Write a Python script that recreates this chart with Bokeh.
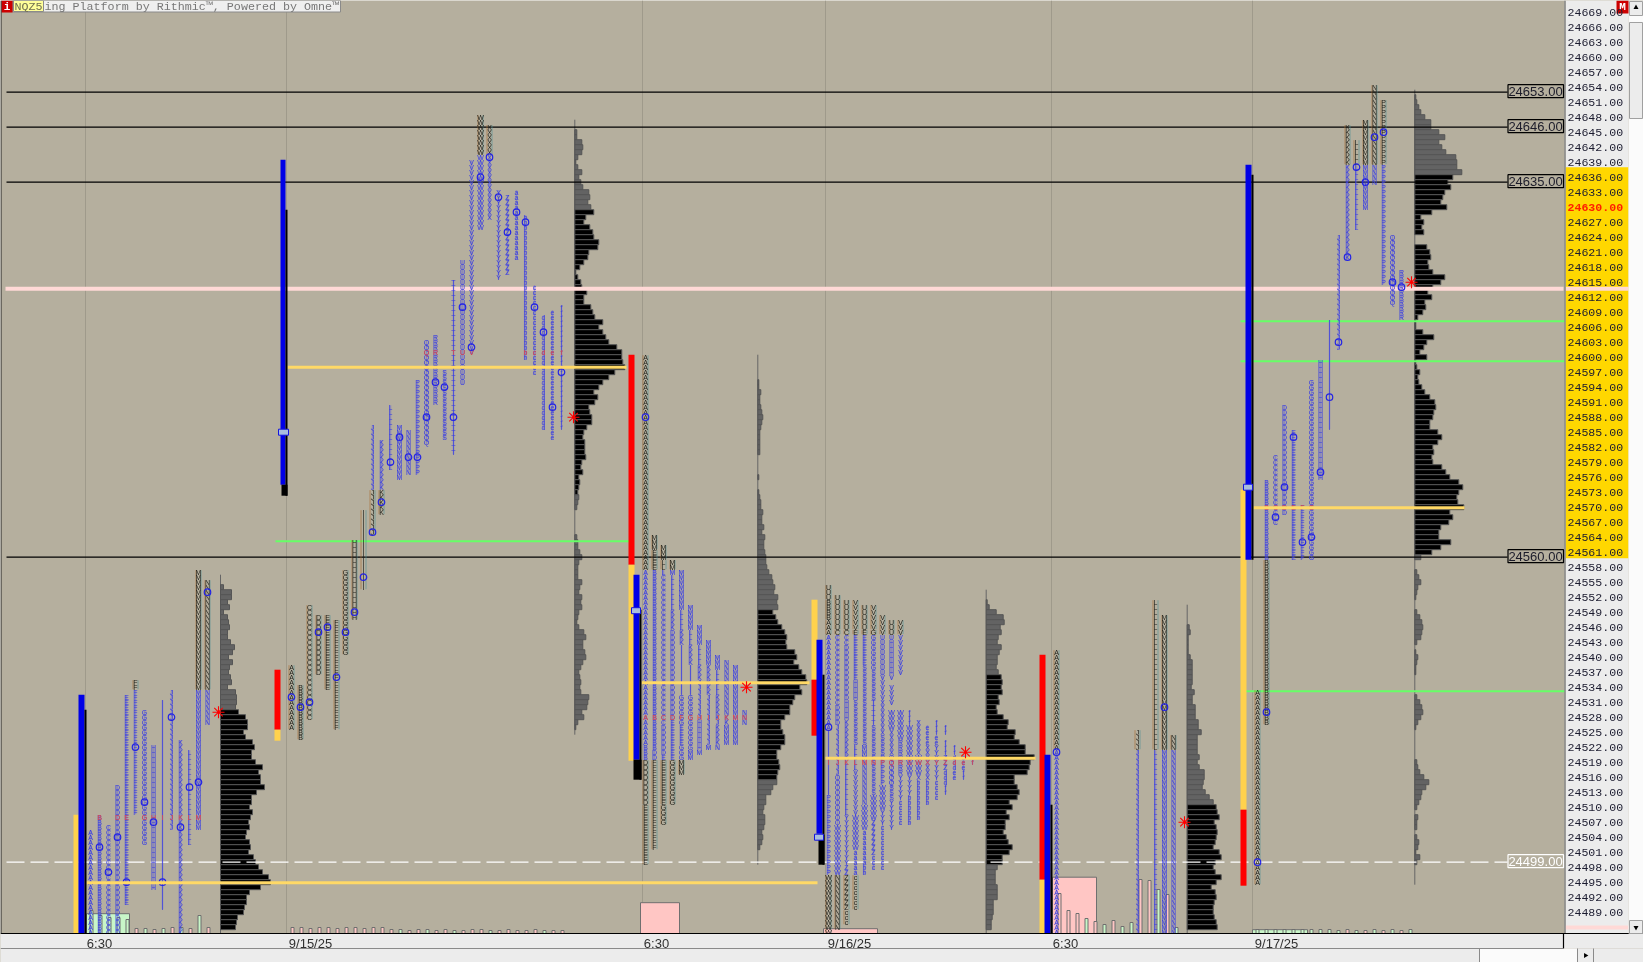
from bokeh.plotting import figure
from bokeh.models import Range1d, LinearAxis, FixedTicker, ColumnDataSource
from bokeh.core.properties import value
from bokeh.embed import file_html
from bokeh.resources import INLINE

# ---------------- price scale labels
price_ticks = list(range(24489, 24670, 3))
time_labels = ["6:30", "9/15/25", "6:30", "9/16/25", "6:30", "9/17/25"]
key_levels = [24653, 24646, 24635, 24560]
prior_close_level = 24499
pink_level = 24613.7
green_levels = [24563.2, 24607.2, 24599.2, 24533.2]
poc_levels = [24494.9, 24598, 24534.9, 24519.8, 24569.9]
value_band = [24638, 24559.8]
last_price = 24630

# ---------------- profile histograms (top price, widths per price row going down)
h1_top = 24554
h1 = [3,11,11,7,9,3,7,8,9,7,7,10,14,12,8,12,9,8,10,11,7,15,16,16,15,
      18,25,27,27,23,25,32,34,31,31,35,42,38,40,40,44,36,31,31,29,32,30,28,29,26,25,29,30,28,33,35,38,42,48,50,40,29,26,26,24,23,17,16,15,14]
h1_black = [24529, 24485]
h2_top = 24645
h2 = [2,2,7,8,7,3,1,3,7,4,6,8,14,15,13,16,
      19,11,9,15,18,19,24,23,14,13,9,5,1,3,6,7,12,9,9,16,18,20,28,24,28,31,34,42,47,47,48,50,40,34,28,24,19,23,20,14,15,17,17,12,
      9,8,10,10,10,11,7,6,8,4,5,4,3,
      4,3,2,0,0,0,0,0,2,3,3,5,7,4,3,3,3,7,5,4,7,6,7,4,3,2,4,9,11,8,8,10,11,8,6,4,5,6,5,6,14,13,12,7,9,3,1]
h2_black = [24629, 24573]
h3_top = 24595
h3 = [1,1,3,2,2,3,4,5,4,3,2,2,2,2,2,0,0,0,0,1,0,0,1,2,3,3,5,4,4,6,4,7,6,6,7,8,8,9,11,14,15,17,16,20,19,20,
      15,18,20,24,27,29,28,29,37,39,36,41,44,48,49,42,44,37,35,32,32,27,23,23,25,27,27,23,19,19,21,22,20,19,
      19,15,13,8,8,6,5,7,7,6,4,5,4,2]
h3_black = [24549, 24516]
h4_top = 24551
h4 = [1,3,10,17,18,14,15,12,11,15,13,11,11,10,12,
      15,16,15,16,12,13,10,11,17,22,21,29,28,33,39,39,48,44,43,41,28,28,31,33,31,23,26,20,23,19,19,17,20,22,26,23,16,16,
      11,9,9,9,11,11,11,7,7,7,6,5,5,3]
h4_black = [24536, 24499]
h5_top = 24546
h5 = [2,3,1,1,1,1,3,5,5,5,5,5,4,7,5,5,8,8,8,11,11,14,10,10,10,10,12,10,12,17,17,16,15,18,22,26,
      29,30,32,27,29,30,29,28,26,32,34,28,26,28,34,29,24,28,29,27,26,26,27,29,30,32]
h5_black = [24510, 24485]
h6_top = 24652
h6 = [1,2,4,6,10,16,16,24,30,24,27,31,41,42,42,47,
      38,33,36,30,28,26,32,17,6,9,7,9,0,0,12,15,16,13,14,18,30,26,18,13,17,
      10,11,8,3,1,1,8,19,12,9,5,12,1,2,5,3,4,7,10,15,20,21,19,18,15,15,23,27,23,18,19,17,18,27,31,35,44,48,44,42,43,49,35,38,34,26,24,24,36,26,17,
      6,0,0,2,4,6,3,2,1,0,0,2,5,7,8,7,6,2,0,1,3,2,1,1,0,0,0,0,2,5,7,8,6,3,1,0,0,0,0,0,0,2,3,5,9,
      14,11,7,6,4,2,0,3,2,2,0,2,4,3,1,5,2]
h6_black = [24636, 24561]
hist_extent = [(24556.5, 24484.8), (24647.5, 24524.5), (24600.5, 24498.5), (24553.5, 24484.8), (24550.5, 24484.8), (24653.5, 24494.5)]

# ---------------- TPO columns: letter, high, low, marker
s1_letters = "ABCDEFGHIJKLMN"
s1_high = [24505,24508,24506,24514,24532,24535,24529,24522,24531,24533,24523,24521,24557,24555]
s1_low = [24485,24485,24485,24485,24491,24509,24503,24494,24490,24506,24485,24503,24506,24527]
s1_mark = [None,24502,24497,24504,24495,24522,24511,24507,24495,24528,24506,24514,24515,24553]
s1_split = (24533, 24000)
s1_red = 24508

s2_letters = "ABCDEFGHIJKLMNPQRSTUVWXYZabcdef"
s2_high = [24538,24534,24550,24548,24548,24547,24557,24563,24569,24586,24583,24590,24586,24585,24595,24603,24604,24597,24615,24619,24639,24648,24646,24633,24632,24633,24628,24614,24608,24609,24610]
s2_low = [24526,24524,24528,24537,24534,24526,24541,24548,24554,24565,24569,24578,24576,24577,24577,24583,24591,24584,24581,24595,24601,24626,24628,24616,24617,24620,24600,24597,24586,24584,24586]
s2_mark = [24532,24530,24531,24545,24546,24536,24545,24549,24556,24565,24571,24579,24584,24580,24580,24588,24595,24594,24588,24610,24602,24636,24640,24632,24625,24629,24627,24610,24605,24590,24597]
s2_split = (24640, 24574)
s2_red = 24601

s3_segments = [
    [("A",24600,24523),("B",24522,24520),("D",24519,24511),("E",24510,24499)],
    [("M",24564,24562),("E",24561,24558),("B",24557,24522),("D",24521,24520),("F",24519,24502)],
    [("M",24562,24560),("L",24559,24557),("C",24556,24527),("D",24526,24521),("E",24520,24511),("G",24510,24507)],
    [("M",24559,24557),("L",24556,24550),("K",24549,24546),("D",24545,24528),("E",24527,24520),("G",24519,24511)],
    [("M",24557,24550),("L",24549,24546),("K",24545,24543),("I",24542,24533),("G",24532,24527),("E",24526,24523),("G",24522,24520),("M",24519,24517)],
    [("M",24550,24546),("L",24545,24543),("K",24542,24539),("I",24538,24533),("G",24532,24522),("M",24521,24520)],
    [("M",24546,24543),("L",24542,24539),("K",24538,24536),("J",24535,24528),("H",24527,24522),("M",24521,24521)],
    [("M",24543,24539),("K",24538,24533),("J",24532,24523),("M",24522,24522)],
    [("M",24540,24538),("L",24537,24533),("K",24532,24528),("J",24527,24527),("K",24526,24523),("N",24522,24522)],
    [("N",24539,24529),("K",24528,24527),("M",24526,24523)],
    [("M",24538,24523)],
    [("N",24529,24527)],
]
s3_mark = [24588] + [None] * 11
s3_split = (24557, 24520)
s3_red = 24528
s3_red_letters = "ABCDFGHIJKMN"

s4_segments = [
    [("U",24554,24552),("B",24551,24548),("A",24547,24526),("I",24525,24513),("P",24512,24497),("W",24496,24485)],
    [("U",24552,24546),("C",24545,24531),("D",24530,24527),("J",24526,24517),("O",24516,24507),("W",24506,24497),("N",24496,24486)],
    [("U",24551,24546),("C",24545,24543),("D",24542,24532),("H",24531,24528),("K",24527,24520),("L",24519,24509),("Y",24508,24499),("Z",24498,24490),("c",24489,24487)],
    [("V",24551,24546),("E",24545,24536),("H",24535,24532),("S",24531,24523),("L",24522,24518),("V",24517,24509),("W",24508,24502),("a",24501,24497),("c",24496,24490)],
    [("U",24550,24546),("E",24545,24539),("S",24538,24523),("M",24522,24520),("N",24519,24511),("W",24510,24506),("a",24505,24499),("b",24498,24497)],
    [("V",24550,24546),("G",24545,24538),("S",24537,24532),("T",24531,24527),("S",24526,24513),("W",24512,24508),("Z",24507,24501),("c",24500,24498)],
    [("V",24548,24545),("U",24544,24537),("V",24536,24532),("X",24531,24525),("S",24524,24521),("P",24520,24515),("W",24514,24510),("Y",24509,24507),("c",24506,24498)],
    [("U",24547,24544),("H",24543,24537),("V",24536,24536),("V",24534,24531),("W",24529,24526),("X",24525,24521),("Q",24520,24515),("S",24514,24512),("Y",24511,24506)],
    [("V",24547,24545),("V",24544,24542),("V",24541,24537),("W",24529,24524),("R",24523,24517),("Y",24516,24512),("c",24511,24507)],
    [("f",24529,24527),("W",24526,24517),("Y",24516,24513),("b",24512,24507)],
    [("X",24527,24521),("W",24520,24517),("X",24516,24516),("b",24515,24508)],
    [("e",24526,24523),("X",24522,24516),("b",24515,24511)],
    [("f",24527,24525),("e",24524,24523),("Y",24522,24516),("c",24515,24512)],
    [("f",24526,24525),("f",24523,24521),("Z",24520,24518),("d",24517,24515),("f",24514,24513)],
    [("f",24522,24521),("d",24520,24518),("e",24517,24516)],
    [("e",24520,24518),("f",24517,24516)],
    [("f",24519,24519)],
]
s4_mark = [24526] + [None] * 16
s4_split = (24544, 24497)
s4_red = 24519
s4_red_letters = "IJKLMNPQRSWXYZdef"

s5_letters = "ABCDEFGHIJKLMN"
s5_high = [24541,None,None,None,None,None,None,None,None,24525,None,24551,24548,24524]
s5_low = [24485,None,None,None,None,None,None,None,None,24485,None,24485,24485,24485]
s5_mark = [24521,None,None,None,None,None,None,None,None,None,None,None,24530,None]
s5_split = (24521, 24000)

s6_letters = "ABCDEFGHIJKLMNPQR"
s6_high = [24533,24575,24580,24590,24585,24570,24595,24599,24607,24624,24646,24643,24647,24654,24651,24624,24617]
s6_low = [24495,24527,24567,24569,24560,24560,24560,24576,24586,24602,24620,24626,24630,24635,24615,24611,24608]
s6_mark = [24499,24529,24568,24574,24584,24563,24564,24577,24592,24603,24620,24638,24635,24644,24645,24615,24614]
s6_split = (24638, 24560)
s6_red = 24570

# ---------------- colored range bars (top, bottom price)
b1 = [("#ffd24d",24508.5,24484.8),("#0000e6",24532.5,24484.8),("#000000",24529.5,24484.8)]
b2 = [("#ff0000",24537.5,24525.5),("#ffd24d",24525.5,24523.3),("#0000e6",24639.5,24574.5),("#000000",24629.5,24572.3)]
b3 = [("#ff0000",24600.5,24558.5),("#ffd24d",24558.5,24519.3),("#0000e6",24556.5,24519.5),("#000000",24549.5,24515.5)]
b4 = [("#ffd24d",24551.5,24535.5),("#ff0000",24535.5,24524.3),("#0000e6",24543.5,24504.7),("#000000",24536.5,24498.5)]
b5 = [("#ff0000",24540.5,24495.5),("#ffd24d",24495.5,24484.8),("#0000e6",24520.5,24484.8),("#000000",24510.5,24484.8)]
b6 = [("#ffd24d",24573.5,24509.5),("#ff0000",24509.5,24494.3),("#0000e6",24638.5,24559.5),("#000000",24636.5,24559.5)]
bar_marks = [24585, 24549.3, 24504, 24574]
star_prices = [24529, 24588, 24534, 24521, 24507, 24615]

# ---------------- bottom volume
v1 = [23,18,16,16,14,5,5,4,5,6,6,5,18,6]
v1_c = "gggggpgpgpgpgp"
v2 = [6,6,5,6,6,5,6,6,5,6,6,4,4,3,4,4,3,4,3,3,4,4,3,3,4,3,3,4,3,3,3]
v2_c = "ppppppppppppgppgppgpppgpppppgpp"
v5 = [40,23,20,15,12,9,13,7,11,54,53,44,39,6]
v5_c = "pppgpgpggppgpg"
v6 = [4,4,4,4,4,4,4,4,4,3,4,3,3,4,3,4,3,4]
v6_c = "ggggggggggpgpgpgpg"
vol_boxes = [("g",24488.7),("p",24490.9),("p",24485.7),("p",24496.0),("g",24485.5)]

# ================================= drawing =================================
W, H = 1643, 962
STEP = 9
def P(y):                       # window row -> price
    return 24669 - (y - 11.7) / 5
BOTTOM = P(933)

BG = "#b5af9e"
p = figure(width=W, height=H, output_backend="svg", toolbar_location=None,
           x_range=Range1d(0, W), y_range=Range1d(P(H), P(0)),
           x_axis_type=None, y_axis_type=None, min_border=0,
           background_fill_color=BG, border_fill_color=BG, outline_line_color=None)
p.styles = {"position": "fixed", "left": "0px", "top": "0px"}

# time grid
grid_x = [85, 286, 642, 825, 1051, 1252]
p.segment(x0=grid_x, x1=grid_x, y0=[BOTTOM]*6, y1=[P(0)]*6, line_color="#9f9a8b", line_width=1)

# volume
PINK, GREEN = "#ffc6c4", "#c8f6c8"
def col(c): return GREEN if c == "g" else PINK
box_x = [(86, 129), (640, 679), (823, 877), (1052, 1096), (1252, 1307)]
p.quad(left=[b[0] for b in box_x], right=[b[1] for b in box_x], bottom=[BOTTOM]*5,
       top=[b[1] for b in vol_boxes], fill_color=[col(b[0]) for b in vol_boxes], line_color="#6f6f6f", line_width=1)
vq = dict(l=[], r=[], t=[], c=[])
for start, vals, cs in [(91, v1, v1_c), (292, v2, v2_c), (1059, v5, v5_c), (1257, v6, v6_c)]:
    for i, (v, c) in enumerate(zip(vals, cs)):
        x = start + STEP * i
        vq["l"].append(x - 1.5); vq["r"].append(x + 1.5); vq["t"].append(BOTTOM + v / 5); vq["c"].append(col(c))
p.quad(left=vq["l"], right=vq["r"], bottom=[BOTTOM]*len(vq["l"]), top=vq["t"], fill_color=vq["c"], line_color="#6f6f6f", line_width=1)

# histograms
bases = [220, 574.3, 757.3, 985.7, 1186.7, 1414.3]
hd = {True: dict(l=[], r=[], t=[], b=[]), False: dict(l=[], r=[], t=[], b=[])}
for base, top, widths, blk in [(bases[0], h1_top, h1, h1_black), (bases[1], h2_top, h2, h2_black),
                               (bases[2], h3_top, h3, h3_black), (bases[3], h4_top, h4, h4_black),
                               (bases[4], h5_top, h5, h5_black), (bases[5], h6_top, h6, h6_black)]:
    for i, w in enumerate(widths):
        price = top - i
        if w <= 0 or price - 0.5 < BOTTOM:
            continue
        d = hd[blk[1] <= price <= blk[0]]
        d["l"].append(base); d["r"].append(base + w); d["t"].append(price + 0.5); d["b"].append(price - 0.5)
p.segment(x0=bases, x1=bases, y0=[e[0] for e in hist_extent], y1=[e[1] for e in hist_extent], line_color="#666666", line_width=1)
p.quad(left=hd[False]["l"], right=hd[False]["r"], top=hd[False]["t"], bottom=hd[False]["b"], fill_color="#636363", line_color="#555555", line_width=1)
p.quad(left=hd[True]["l"], right=hd[True]["r"], top=hd[True]["t"], bottom=hd[True]["b"], fill_color="#000000", line_color="#555555", line_width=1)

# level lines
p.segment(x0=[5], x1=[1563], y0=[pink_level], y1=[pink_level], line_color="#ffd9d6", line_width=4)
green_x = [(275, 629), (1240, 1565), (1240, 1565), (1240, 1565)]
p.segment(x0=[g[0] for g in green_x], x1=[g[1] for g in green_x], y0=green_levels, y1=green_levels, line_color="#66ff66", line_width=2)
p.segment(x0=[6]*4, x1=[1507]*4, y0=key_levels, y1=key_levels, line_color="#000000", line_width=1.2)
p.segment(x0=[6], x1=[1507], y0=[prior_close_level], y1=[prior_close_level], line_color="#ffffff", line_width=1.2, line_dash="18 6")

# TPO letters
blue = dict(x=[], y=[], t=[]); dark = dict(x=[], y=[], t=[]); red = dict(x=[], y=[], t=[])
seg_b = dict(x=[], y0=[], y1=[]); seg_d = dict(x=[], y0=[], y1=[])
marks = dict(x=[], y=[])

def put(x, letter, hi, lo, split):
    for q in range(lo, hi + 1):
        t = dark if (q > split[0] or q < split[1]) else blue
        t["x"].append(x); t["y"].append(q); t["t"].append(letter)
    bh, bl = min(hi, split[0]), max(lo, split[1])
    if bh >= bl:
        seg_b["x"].append(x); seg_b["y0"].append(bh + .4); seg_b["y1"].append(bl - .4)
    if hi > split[0]:
        seg_d["x"].append(x); seg_d["y0"].append(hi + .4); seg_d["y1"].append(max(lo, split[0] + 1) - .4)
    if lo < split[1]:
        seg_d["x"].append(x); seg_d["y0"].append(min(hi, split[1] - 1) + .4); seg_d["y1"].append(lo - .4)

for x0, letters, hi, lo, mk, split, rr in [(90, s1_letters, s1_high, s1_low, s1_mark, s1_split, s1_red),
                                           (291, s2_letters, s2_high, s2_low, s2_mark, s2_split, s2_red),
                                           (1056, s5_letters, s5_high, s5_low, s5_mark, s5_split, None),
                                           (1257, s6_letters, s6_high, s6_low, s6_mark, s6_split, s6_red)]:
    for i, L in enumerate(letters):
        x = x0 + STEP * i
        if hi[i] is None:
            continue
        put(x, L, hi[i], lo[i], split)
        if mk[i] is not None:
            marks["x"].append(x); marks["y"].append(mk[i])
        if rr is not None and lo[i] <= rr <= hi[i]:
            red["x"].append(x); red["y"].append(rr); red["t"].append(L)

for x0, segs, mk, split, rr, rl in [(645, s3_segments, s3_mark, s3_split, s3_red, s3_red_letters),
                                    (828, s4_segments, s4_mark, s4_split, s4_red, s4_red_letters)]:
    for i, col_segs in enumerate(segs):
        x = x0 + STEP * i
        for L, hi, lo in col_segs:
            put(x, L, hi, lo, split)
        if mk[i] is not None:
            marks["x"].append(x); marks["y"].append(mk[i])
        red["x"].append(x); red["y"].append(rr); red["t"].append(rl[i] if i < len(rl) else "")

p.segment(x0=seg_b["x"], x1=seg_b["x"], y0=seg_b["y0"], y1=seg_b["y1"], line_color="#5a5ad8", line_width=1.5, line_alpha=0.45)
p.segment(x0=[v - 2.5 for v in seg_d["x"]], x1=[v - 2.5 for v in seg_d["x"]], y0=seg_d["y0"], y1=seg_d["y1"], line_color="#a8692c", line_width=1, line_alpha=0.6)
p.segment(x0=[v + 2.5 for v in seg_d["x"]], x1=[v + 2.5 for v in seg_d["x"]], y0=seg_d["y0"], y1=seg_d["y1"], line_color="#4f8f96", line_width=1, line_alpha=0.6)
tpo_font = value("Liberation Sans")
p.text(x="x", y="y", text="t", source=ColumnDataSource(blue), text_font=tpo_font, text_font_size="7px",
       text_color="#3338e6", text_align="center", text_baseline="middle")
p.text(x="x", y="y", text="t", source=ColumnDataSource(dark), text_font=tpo_font, text_font_size="7px",
       text_color="#20201a", text_align="center", text_baseline="middle")
p.text(x="x", y="y", text="t", source=ColumnDataSource(red), text_font=tpo_font, text_font_size="7px",
       text_color="#f0483c", text_align="center", text_baseline="middle")
p.scatter(x=marks["x"], y=marks["y"], marker="circle", size=6.5, fill_color=None, line_color="#2222e6", line_width=1.2)

# point of control lines
poc_x = [(86, 817), (287, 626), (641, 809), (825, 1035), (1253, 1464)]
p.segment(x0=[c[0] for c in poc_x], x1=[c[1] for c in poc_x], y0=poc_levels, y1=poc_levels, line_color="#ffd966", line_width=3)

# session bars
for bars, xs in [(b1, [(73, 78), (78, 84), (84, 86)]),
                 (b2, [(274, 280), (274, 280), (280, 285), (285, 287)]),
                 (b3, [(628, 634), (628, 634), (633, 639), (639, 641)]),
                 (b4, [(811, 817), (811, 817), (816, 822), (822, 824)]),
                 (b5, [(1039, 1045), (1039, 1045), (1044, 1050), (1050, 1052)]),
                 (b6, [(1240, 1246), (1240, 1246), (1245, 1251), (1251, 1253)])]:
    p.quad(left=[x[0] for x in xs], right=[x[1] for x in xs], top=[b[1] for b in bars], bottom=[b[2] for b in bars],
           fill_color=[b[0] for b in bars], line_color=None)
p.quad(left=[281, 633, 818], right=[287, 641, 824], top=[24574.5, 24519.5, 24504.5], bottom=[24572.3, 24515.5, 24498.5],
       fill_color="#000000", line_color=None)
mark_x = [(278, 288), (631, 640), (814, 823), (1243, 1252)]
p.quad(left=[m[0] for m in mark_x], right=[m[1] for m in mark_x], top=[v + .6 for v in bar_marks], bottom=[v - .6 for v in bar_marks],
       fill_color="#a9bede", line_color="#1414e0", line_width=1)
star_x = [218, 573, 746, 965, 1184, 1411]
p.scatter(x=star_x, y=star_prices, marker="asterisk", size=12, line_color="#ff0000", line_width=1.1)

# right axis panel
PANEL = "#ececec"
p.quad(left=[1565], right=[1628], top=[P(0)], bottom=[P(933)], fill_color=PANEL, line_color=None)
p.quad(left=[1565], right=[1628], top=[value_band[0]], bottom=[value_band[1]], fill_color="#ffd700", line_color=None)
p.quad(left=[1565, 1565], right=[1628, 1628], top=[pink_level + .4, P(925)], bottom=[pink_level - .4, P(929)], fill_color="#ffd9d6", line_color=None)
p.segment(x0=[1564.5], x1=[1564.5], y0=[P(0)], y1=[P(933)], line_color="#8a8a8a", line_width=1.5)

yaxis = LinearAxis(ticker=FixedTicker(ticks=price_ticks), fixed_location=1565,
                   major_label_overrides={t: ("" if t == last_price else f"{t}.00") for t in price_ticks},
                   major_tick_line_color=None, minor_tick_line_color=None, axis_line_color=None,
                   major_tick_in=0, major_tick_out=0, minor_tick_in=0, minor_tick_out=0,
                   major_label_standoff=2, major_label_text_font="Liberation Mono",
                   major_label_text_font_size="11.6px", major_label_text_color="#1c1c30")
p.add_layout(yaxis, "right")
p.text(x=[1567], y=[last_price], text=[f"{last_price}.00"], text_font=value("Liberation Mono"), text_font_style="bold",
       text_font_size="11.6px", text_color="#ff2000", text_baseline="middle")

# level tags
tag_x0, tag_x1 = 1507.5, 1563
p.quad(left=[tag_x0]*4, right=[tag_x1]*4, top=[k + 1.5 for k in key_levels], bottom=[k - 1.1 for k in key_levels],
       fill_color=BG, line_color="#000000", line_width=1.2)
p.quad(left=[tag_x0], right=[tag_x1], top=[prior_close_level + 1.5], bottom=[prior_close_level - 1.1],
       fill_color=BG, line_color="#ffffff", line_width=1.2)
p.text(x=[1535]*4, y=[k + .2 for k in key_levels], text=[f"{k}.00" for k in key_levels], text_font=value("Liberation Sans"),
       text_font_size="13px", text_color="#1c1c2a", text_align="center", text_baseline="middle")
p.text(x=[1535], y=[prior_close_level + .2], text=[f"{prior_close_level}.00"], text_font=value("Liberation Sans"),
       text_font_size="13px", text_color="#ffffff", text_align="center", text_baseline="middle")

# bottom bars and scrollbars
p.quad(left=[0], right=[1563], top=[P(933)], bottom=[P(948)], fill_color=PANEL, line_color=None)
p.quad(left=[1563], right=[W], top=[P(933)], bottom=[P(948)], fill_color=PANEL, line_color=None)
p.quad(left=[0, 1479], right=[1479, 1577], top=[P(948)]*2, bottom=[P(H)]*2, fill_color=[PANEL, "#fbfbfb"], line_color=None)
p.quad(left=[1577], right=[W], top=[P(948)], bottom=[P(H)], fill_color=PANEL, line_color=None)
p.segment(x0=[0, 1563], x1=[W, 1563], y0=[P(933), P(933)], y1=[P(933), P(948)], line_color="#000000", line_width=1.2)
p.segment(x0=[1479, 1577, 1593, 0], x1=[1479, 1577, 1593, 1563], y0=[P(948), P(948), P(948), P(948)],
          y1=[P(H), P(H), P(H), P(948)], line_color="#8a8a8a", line_width=1)
p.quad(left=[1628], right=[W], top=[P(0)], bottom=[P(933)], fill_color="#fbfbfb", line_color=None)
p.quad(left=[1629, 1629, 1629], right=[1642, 1642, 1642], top=[P(1), P(22), P(920)], bottom=[P(15), P(118), P(933)],
       fill_color=PANEL, line_color="#a0a0a0", line_width=1)
p.scatter(x=[1635.5, 1635.5, 1585], y=[P(7), P(927), P(955)], marker="triangle", size=5, fill_color="#000000", line_color=None,
          angle=[0, 3.14159, -1.5708])

# red M and title strip
p.quad(left=[1616], right=[1628], top=[P(0)], bottom=[P(13)], fill_color="#cc0000", line_color=None)
p.text(x=[1622], y=[P(6.5)], text=["M"], text_font=value("Liberation Mono"), text_font_style="bold", text_font_size="11px",
       text_color="#ffffff", text_align="center", text_baseline="middle")
p.quad(left=[12], right=[340], top=[P(0)], bottom=[P(11.5)], fill_color="#efefef", line_color="#8a8a8a", line_width=1)
p.quad(left=[1], right=[12], top=[P(0)], bottom=[P(12)], fill_color="#cc0000", line_color=None)
p.quad(left=[13], right=[43], top=[P(0)], bottom=[P(11)], fill_color="#ffff99", line_color="#8a8a8a", line_width=1)
p.text(x=[6.5], y=[P(6)], text=["i"], text_font=value("Liberation Mono"), text_font_style="bold", text_font_size="11px",
       text_color="#ffffff", text_align="center", text_baseline="middle")
p.text(x=[14], y=[P(6)], text=["NQZ5"], text_font=value("Liberation Mono"), text_font_size="11.7px", text_color="#707050", text_baseline="middle")
p.text(x=[44], y=[P(6)], text=["ing Platform by Rithmic\u2122, Powered by Omne\u2122"], text_font=value("Liberation Mono"),
       text_font_size="11.7px", text_color="#777777", text_baseline="middle")
p.segment(x0=[0.5], x1=[0.5], y0=[P(0)], y1=[P(933)], line_color="#222222", line_width=1)

# time axis
label_half = [12, 22, 12, 22, 12, 22]
tick_x = [g + h + 2 for g, h in zip(grid_x, label_half)]
xaxis = LinearAxis(ticker=FixedTicker(ticks=tick_x), fixed_location=BOTTOM,
                   major_label_overrides=dict(zip(tick_x, time_labels)),
                   major_tick_line_color=None, minor_tick_line_color=None, axis_line_color=None,
                   major_tick_in=0, major_tick_out=0, minor_tick_in=0, minor_tick_out=0,
                   major_label_standoff=2, major_label_text_font="Liberation Sans",
                   major_label_text_font_size="13px", major_label_text_color="#303030")
p.add_layout(xaxis, "below")

open("out.html", "w").write(file_html(p, INLINE))
